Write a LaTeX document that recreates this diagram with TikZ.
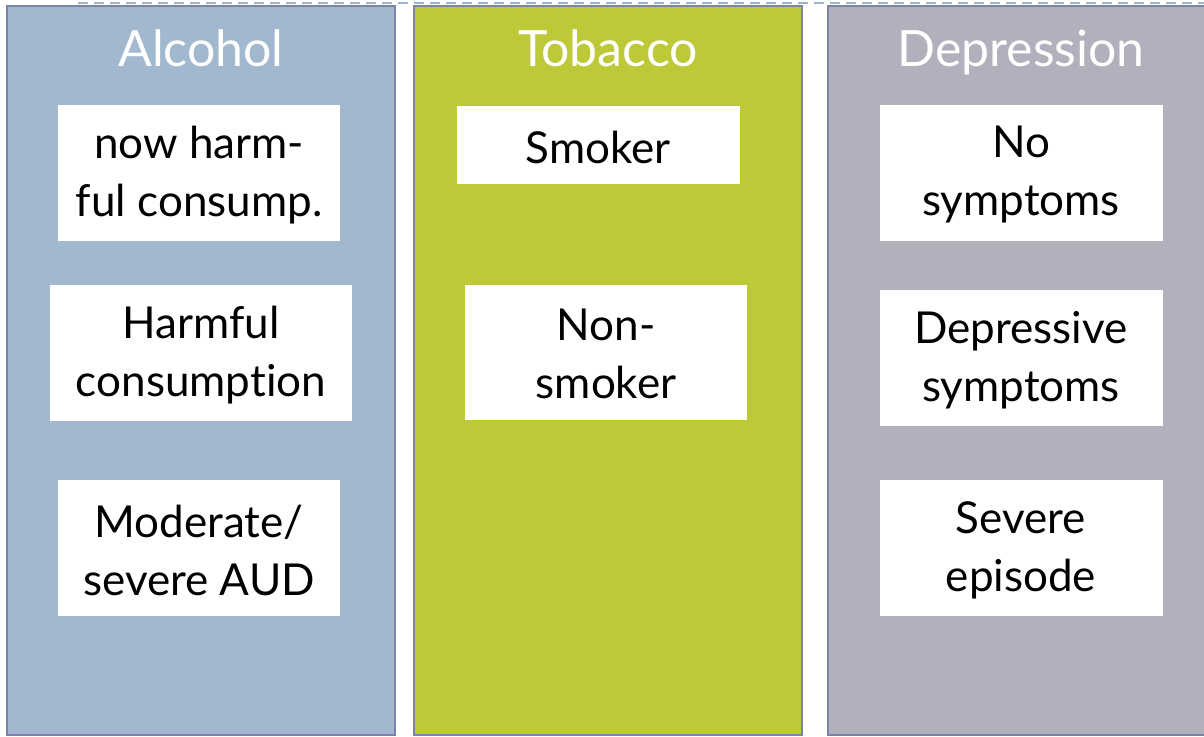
\documentclass[tikz,border=0pt]{standalone}
\usepackage{fontspec}
\setmainfont{Lato}[Ligatures=NoCommon]
\definecolor{alc}{HTML}{A2B8CE}
\definecolor{tob}{HTML}{BDC937}
\definecolor{dep}{HTML}{B1B1BD}
\definecolor{edgecol}{HTML}{7B83A8}
\definecolor{dashcol}{HTML}{9CB4CC}
\tikzset{
  panel/.style={draw=edgecol, line width=2pt},
  title/.style={text=white, font=\fontsize{50}{60}\selectfont, anchor=base},
  itembox/.style={fill=white, draw=none, inner sep=0pt},
  itemtext/.style={align=center, font=\fontsize{44}{58}\selectfont, inner sep=0pt, yshift=-2pt},
}
\begin{document}
\begin{tikzpicture}[x=1pt,y=-1pt]
\useasboundingbox (0,0) rectangle (1204,736);
\fill[white] (0,0) rectangle (1204,736);
\draw[draw=dashcol, line width=2pt, dash pattern=on 10pt off 6pt] (78,3) -- (1204,3);
\draw[panel, fill=alc] (7,6) rectangle (395,735);
\draw[panel, fill=tob] (414,6) rectangle (802,735);
\draw[panel, fill=dep] (828,6) rectangle (1212,735);
\node[title] (ta) at (201,66) {Alcohol};
\node[title] (tt) at (608,66) {Tobacco};
\node[title] (td) at (1021,66) {Depression};
\node[itembox, minimum width=282pt, minimum height=136pt] (a1) at (199,173) {};
\node[itembox, minimum width=302pt, minimum height=136pt] (a2) at (201,353) {};
\node[itembox, minimum width=282pt, minimum height=136pt] (a3) at (199,548) {};
\node[itembox, minimum width=283pt, minimum height=78pt] (t1) at (598,145) {};
\node[itembox, minimum width=282pt, minimum height=135pt] (t2) at (606,352) {};
\node[itembox, minimum width=283pt, minimum height=136pt] (d1) at (1021,173) {};
\node[itembox, minimum width=283pt, minimum height=136pt] (d2) at (1021,358) {};
\node[itembox, minimum width=283pt, minimum height=136pt] (d3) at (1021,548) {};
\node[itemtext] (a1t) at (a1.center) {now harm-\\ful consump.};
\node[itemtext] (a2t) at (a2.center) {Harmful\\consumption};
\node[itemtext] (a3t) at (a3.center) {Moderate/\\severe AUD};
\node[itemtext] (t1t) at (t1.center) {Smoker};
\node[itemtext] (t2t) at (t2.center) {Non-\\smoker};
\node[itemtext] (d1t) at (d1.center) {No\\symptoms};
\node[itemtext] (d2t) at (d2.center) {Depressive\\symptoms};
\node[itemtext] (d3t) at (d3.center) {Severe\\episode};
\end{tikzpicture}
\end{document}
